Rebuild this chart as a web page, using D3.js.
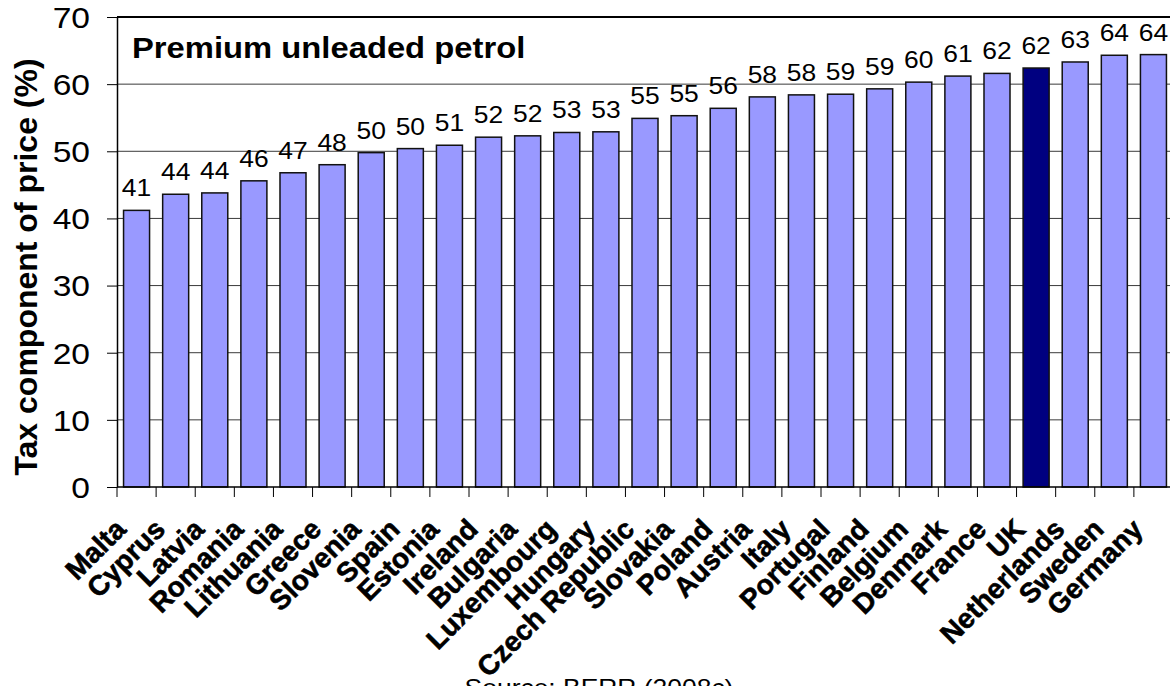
<!DOCTYPE html>
<html>
<head>
<meta charset="utf-8">
<script src="https://cdn.jsdelivr.net/npm/d3@7"></script>
<style>
  html, body { margin: 0; padding: 0; background: #fff; }
  svg { display: block; }
  text { font-family: "Liberation Sans", Arial, sans-serif; fill: #000; }
</style>
</head>
<body>
<script>
// Tax share of the pump price of premium unleaded petrol, EU member states
const countries = ["Malta", "Cyprus", "Latvia", "Romania", "Lithuania", "Greece", "Slovenia",
  "Spain", "Estonia", "Ireland", "Bulgaria", "Luxembourg", "Hungary", "Czech Republic",
  "Slovakia", "Poland", "Austria", "Italy", "Portugal", "Finland", "Belgium", "Denmark",
  "France", "UK", "Netherlands", "Sweden", "Germany"];
const taxShare = [41.2, 43.6, 43.8, 45.6, 46.8, 48.0, 49.8, 50.4, 50.9, 52.1, 52.3, 52.8,
  52.9, 54.9, 55.3, 56.4, 58.1, 58.4, 58.5, 59.3, 60.3, 61.2, 61.6, 62.4, 63.3, 64.3, 64.4];
const highlighted = ["UK"];
const yTicks = [0, 10, 20, 30, 40, 50, 60, 70];
const chartTitle = "Premium unleaded petrol";
const yTitle = "Tax component of price (%)";
const sourceNote = "Source: BERR (2008c)";

const W = 1170, H = 686;
const plot = { left: 117, right: 1173, top: 17, bottom: 487 };

const svg = d3.select("body").append("svg").attr("width", W).attr("height", H);

const x = d3.scaleBand().domain(countries)
  .range([plot.left, plot.right]).paddingInner(0.335).paddingOuter(0.1675);
const y = d3.scaleLinear().domain([0, 70]).range([plot.bottom, plot.top]);
const step = x.step();

// horizontal text is drawn slightly widened, like the spreadsheet's rendering
function wideText(sel, px, py, sx) {
  return sel.attr("transform", `translate(${px},${py}) scale(${sx},1)`);
}

// gridlines
svg.append("g").selectAll("line").data(yTicks.filter(v => v > 0)).join("line")
  .attr("x1", plot.left).attr("x2", plot.right)
  .attr("y1", d => y(d)).attr("y2", d => y(d))
  .attr("stroke", d => d === 70 ? "#000" : "#3a3a3a")
  .attr("stroke-width", d => d === 70 ? 2 : 1);

// bars
svg.append("g").selectAll("rect").data(countries).join("rect")
  .attr("x", d => x(d))
  .attr("y", (d, i) => y(taxShare[i]))
  .attr("width", x.bandwidth())
  .attr("height", (d, i) => y(0) - y(taxShare[i]))
  .attr("fill", d => highlighted.includes(d) ? "#000080" : "#9999FF")
  .attr("stroke", "#111")
  .attr("stroke-width", 1.5);

// value labels
const fmt = d3.format(".0f");
svg.append("g").selectAll("text").data(countries).join("text")
  .each(function (d, i) {
    wideText(d3.select(this), x(d) + x.bandwidth() / 2, y(taxShare[i]) - 14, 1.15);
  })
  .attr("text-anchor", "middle")
  .style("font-size", "23px")
  .text((d, i) => fmt(taxShare[i]));

// y axis
const yAxis = svg.append("g")
  .attr("transform", `translate(${plot.left},0)`)
  .call(d3.axisLeft(y).tickValues(yTicks).tickSize(10).tickPadding(17).tickSizeOuter(0));
yAxis.select(".domain").attr("stroke", "#000").attr("stroke-width", 1.5);
yAxis.selectAll(".tick line").attr("stroke", "#000");
yAxis.selectAll(".tick text")
  .style("font-size", "30px")
  .attr("font-family", null)
  .attr("x", null).attr("dy", null)
  .attr("dominant-baseline", "central")
  .attr("transform", "translate(-27,0) scale(1.12,1)");

// x axis: baseline and ticks at category boundaries
svg.append("line")
  .attr("x1", plot.left).attr("x2", plot.right)
  .attr("y1", plot.bottom).attr("y2", plot.bottom)
  .attr("stroke", "#000").attr("stroke-width", 1.5);
const bounds = countries.map(d => x(d) + x.bandwidth() / 2 - step / 2).concat([plot.right]);
svg.append("g").selectAll("line").data(bounds).join("line")
  .attr("x1", d => d).attr("x2", d => d)
  .attr("y1", plot.bottom).attr("y2", plot.bottom + 10)
  .attr("stroke", "#000");

// category labels, rotated
svg.append("g").selectAll("text").data(countries).join("text")
  .attr("transform", d => `translate(${x(d) + x.bandwidth() / 2 - 9},531) rotate(-45)`)
  .attr("text-anchor", "end")
  .style("font-size", "28px")
  .style("font-weight", "bold")
  .style("stroke", "#000")
  .style("stroke-width", "0.6px")
  .text(d => d);

// y axis title
svg.append("text")
  .attr("transform", `translate(37,267) rotate(-90)`)
  .attr("text-anchor", "middle")
  .style("font-size", "32px")
  .style("font-weight", "bold")
  .text(yTitle);

// chart title inside the plot
wideText(svg.append("text"), 132, 58, 1.13)
  .style("font-size", "29px")
  .style("font-weight", "bold")
  .text(chartTitle);

// source note
wideText(svg.append("text"), 599, 696, 1.15)
  .attr("text-anchor", "middle")
  .style("font-size", "23px")
  .text(sourceNote);
</script>
</body>
</html>
